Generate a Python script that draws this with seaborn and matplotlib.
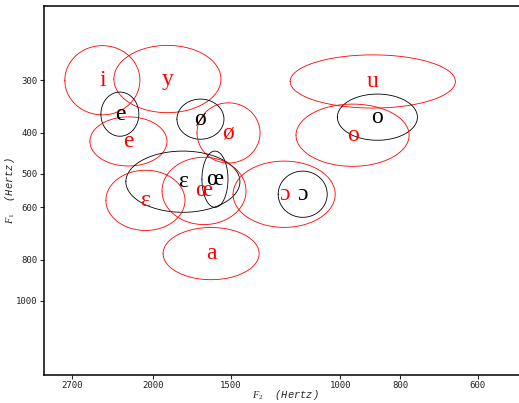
import numpy as np
import matplotlib
matplotlib.use("Agg")
import matplotlib.pyplot as plt
import seaborn as sns

# Vowel ellipses: centre formants (Hz) and half-axes in log10 units
vowels = ["i", "y", "e", "e", "ø", "ø", "ɛ", "œ", "œ", "ɛ", "ɔ", "ɔ", "a", "u", "o", "o"]
groups = ["red", "red", "black", "red", "black", "red", "black", "black",
          "red", "red", "red", "black", "red", "red", "black", "red"]
f2_centre = [2416, 1898, 2264, 2193, 1679, 1513, 1792, 1591,
             1657, 2059, 1231, 1149, 1614, 886, 871, 955]
f1_centre = [300, 298, 361, 419, 371, 400, 522, 515,
             549, 578, 559, 559, 773, 302, 367, 405]
f2_spread = [0.0605, 0.0863, 0.0306, 0.0621, 0.0379, 0.0508, 0.0919, 0.0210,
             0.0677, 0.0637, 0.0823, 0.0395, 0.0774, 0.1331, 0.0645, 0.0911]
f1_spread = [0.0821, 0.0798, 0.0524, 0.0583, 0.0476, 0.0714, 0.0726, 0.0667,
             0.0798, 0.0714, 0.0786, 0.0548, 0.0619, 0.0631, 0.0548, 0.0738]

x_ticks = [2700, 2000, 1500, 1000, 800, 600]
y_ticks = [300, 400, 500, 600, 800, 1000]

palette = {"red": "#ff0000", "black": "#000000"}

sns.set_style("ticks")
plt.rcParams["mathtext.fontset"] = "custom"
plt.rcParams["mathtext.it"] = "Liberation Serif:italic"
plt.rcParams["mathtext.rm"] = "Liberation Serif"

fig = plt.figure(figsize=(5.19, 4.03), dpi=100)
W, H = 519, 403
ax = fig.add_axes([44 / W, (H - 375) / H, (527 - 44) / W, (375 - 6) / H])
ax.set_xscale("log")
ax.set_yscale("log")

t = np.linspace(0, 2 * np.pi, 240)
for v, g, f2, f1, a, b in zip(vowels, groups, f2_centre, f1_centre, f2_spread, f1_spread):
    xs = 10 ** (np.log10(f2) + a * np.cos(t))
    ys = 10 ** (np.log10(f1) + b * np.sin(t))
    sns.lineplot(x=xs, y=ys, sort=False, estimator=None, color=palette[g],
                 linewidth=0.6, ax=ax, legend=False)
    ax.text(f2, f1, v, color=palette[g], ha="center", va="center",
            fontsize=17, family="Liberation Serif")

ax.set_xlim(3000, 500)
ax.set_ylim(1500, 200)
ax.minorticks_off()
ax.set_xticks(x_ticks, [str(v) for v in x_ticks])
ax.set_yticks(y_ticks, [str(v) for v in y_ticks])
ax.tick_params(axis="both", length=3, width=0.8, pad=1.5, labelsize=6.5,
               labelcolor="#222222", direction="out")
for lab in ax.get_xticklabels() + ax.get_yticklabels():
    lab.set_family("DejaVu Sans Mono")

for side in ["left", "top", "bottom"]:
    ax.spines[side].set_visible(True)
    ax.spines[side].set_linewidth(1.1)
    ax.spines[side].set_color("black")
ax.spines["right"].set_visible(False)

ax.set_xlabel(r"$F_2$  (Hertz)", family="Liberation Mono", style="italic",
              fontsize=7.5)
ax.set_ylabel(r"$F_1$  (Hertz)", family="Liberation Mono", style="italic",
              fontsize=7.5)
ax.xaxis.set_label_coords((285 - 44) / 483, (375 - 395) / 369)
ax.yaxis.set_label_coords((10 - 44) / 483, 0.5)
ax.xaxis.label.set_va("center")
ax.yaxis.label.set_va("center")

fig.savefig("out.png", dpi=100)
